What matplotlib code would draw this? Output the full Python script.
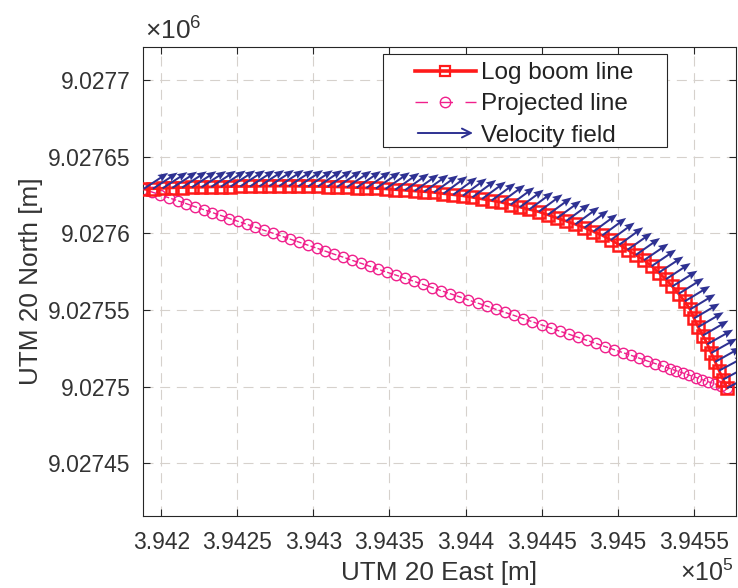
import numpy as np
import matplotlib
matplotlib.use("Agg")
import matplotlib.pyplot as plt
from matplotlib.lines import Line2D
from matplotlib.patches import FancyArrowPatch, Rectangle
from matplotlib.legend_handler import HandlerBase
from matplotlib.ticker import FuncFormatter

plt.rcParams['font.family'] = ['Liberation Sans', 'DejaVu Sans']
plt.rcParams['mathtext.fontset'] = 'custom'
plt.rcParams['mathtext.rm'] = 'Liberation Sans'
plt.rcParams['mathtext.default'] = 'regular'

#---------------- DATA (UTM 20, metres) ------------------------------------
EAST0 = 394000.0
NORTH0 = 9027500.0

# log boom line
boom_e = [188.2, 194.5, 200.9, 207.3, 213.7, 220.0, 226.4, 232.8, 239.2, 245.5,
          251.9, 258.3, 264.6, 271.0, 277.4, 283.8, 290.1, 296.5, 302.9, 309.3,
          315.6, 322.0, 328.4, 334.8, 341.1, 347.4, 353.8, 360.1, 366.5, 372.9,
          379.2, 385.5, 391.9, 398.2, 404.5, 410.8, 417.1, 423.4, 429.6, 435.7,
          441.9, 448.1, 454.1, 460.2, 466.1, 472.2, 478.2, 484.1, 489.9, 495.5,
          501.1, 506.5, 511.9, 517.3, 522.3, 527.0, 531.7, 535.9, 540.1, 544.1,
          547.6, 550.2, 552.9, 556.0, 559.0, 561.5, 564.1, 566.7, 569.3, 571.9]
boom_n = [128.9, 129.1, 129.4, 129.7, 129.9, 130.0, 130.1, 130.3, 130.4, 130.5,
          130.6, 130.6, 130.7, 130.8, 130.8, 130.8, 130.7, 130.6, 130.6, 130.5,
          130.3, 130.1, 129.8, 129.6, 129.3, 129.0, 128.5, 128.1, 127.6, 127.2,
          126.7, 125.9, 125.2, 124.5, 123.5, 122.4, 121.4, 120.3, 118.7, 117.1,
          115.6, 114.1, 112.1, 110.0, 108.0, 105.9, 103.7, 101.2, 98.7, 95.7,
          92.6, 89.3, 85.9, 82.5, 78.6, 74.4, 70.1, 65.4, 60.6, 55.7,
          50.4, 44.6, 38.9, 33.4, 27.8, 22.0, 16.2, 10.5, 4.7, -0.9]

# projected line
proj_e = [188.2, 193.8, 199.4, 205.1, 210.8, 216.4, 222.1, 227.8, 233.5, 239.1,
          244.8, 250.6, 256.2, 261.9, 267.7, 273.4, 279.1, 284.9, 290.6, 296.4,
          302.1, 307.9, 313.7, 319.5, 325.3, 331.0, 336.9, 342.7, 348.6, 354.5,
          360.3, 366.2, 372.1, 378.0, 383.9, 389.9, 395.9, 401.9, 407.9, 413.9,
          419.9, 425.9, 431.9, 438.0, 443.9, 450.0, 456.1, 462.1, 468.1, 474.0,
          480.0, 485.9, 491.7, 497.6, 503.3, 508.8, 514.3, 519.5, 524.7, 529.8,
          534.5, 538.6, 542.8, 547.2, 551.6, 555.6, 559.7, 563.8, 567.9, 571.9]
proj_n = [128.9, 127.0, 125.1, 123.2, 121.3, 119.4, 117.4, 115.5, 113.6, 111.7,
          109.7, 107.8, 105.9, 104.0, 102.0, 100.1, 98.2, 96.2, 94.3, 92.3,
          90.4, 88.4, 86.4, 84.5, 82.5, 80.6, 78.6, 76.6, 74.6, 72.7,
          70.7, 68.7, 66.7, 64.7, 62.7, 60.7, 58.7, 56.6, 54.6, 52.6,
          50.5, 48.5, 46.5, 44.4, 42.4, 40.3, 38.3, 36.2, 34.2, 32.2,
          30.2, 28.2, 26.2, 24.2, 22.3, 20.5, 18.6, 16.8, 15.1, 13.4,
          11.8, 10.4, 9.0, 7.5, 6.0, 4.6, 3.2, 1.9, 0.5, -0.9]

# velocity field at the boom nodes (east / north components, m)
vel_u = [11.7, 11.7, 11.7, 11.7, 11.7, 11.7, 11.7, 11.7, 11.7, 11.7,
         11.7, 11.7, 11.7, 11.7, 11.7, 11.7, 11.7, 11.7, 11.6, 11.6,
         11.6, 11.6, 11.5, 11.5, 11.5, 11.5, 11.4, 11.4, 11.4, 11.4,
         11.4, 11.3, 11.3, 11.3, 11.3, 11.3, 11.3, 11.3, 11.3, 11.3,
         11.3, 11.3, 11.3, 11.3, 11.3, 11.3, 11.3, 11.3, 11.3, 11.3,
         11.3, 11.5, 11.5, 11.6, 11.6, 11.7, 11.7, 11.9, 11.9, 12.0,
         12.0, 12.1, 12.1, 12.1, 12.2, 12.2, 12.2, 12.4, 12.4, 12.4]
vel_v = [7.6, 7.6, 7.6, 7.6, 7.6, 7.6, 7.6, 7.6, 7.6, 7.6,
         7.6, 7.6, 7.6, 7.6, 7.6, 7.6, 7.6, 7.6, 7.7, 7.7,
         7.7, 7.7, 7.8, 7.8, 7.8, 7.8, 7.9, 7.9, 7.9, 8.0,
         8.0, 8.2, 8.2, 8.2, 8.2, 8.2, 8.2, 8.2, 8.2, 8.2,
         8.2, 8.2, 8.2, 8.2, 8.2, 8.2, 8.2, 8.2, 8.2, 8.2,
         8.2, 8.0, 8.0, 7.8, 7.8, 7.6, 7.6, 7.4, 7.4, 7.2,
         7.2, 7.0, 7.0, 7.0, 6.8, 6.8, 6.8, 6.6, 6.6, 6.6]

x_ticks = [394200, 394250, 394300, 394350, 394400, 394450, 394500, 394550]
y_ticks = [9027450, 9027500, 9027550, 9027600, 9027650, 9027700]
labels = ['Log boom line', 'Projected line', 'Velocity field']

RED = '#FF1A1A'
PINK = '#F0208C'
BLUE = '#2E3192'
TXT = '#333333'

#---------------- PLOT -------------------------------------------------------
boom_east = EAST0 + np.array(boom_e)
boom_north = NORTH0 + np.array(boom_n)
proj_east = EAST0 + np.array(proj_e)
proj_north = NORTH0 + np.array(proj_n)

fig = plt.figure(figsize=(7.38, 5.88), dpi=100)
ax = fig.add_axes([0.1938, 0.1224, 0.8035, 0.7981])

ax.plot(proj_east, proj_north, '--o', color=PINK, lw=1, ms=7.5, mfc='none',
        mew=1, zorder=2)
ax.plot(boom_east, boom_north, '-s', color=RED, lw=2, ms=8, mfc='none',
        mew=1.8, zorder=3)
ax.quiver(boom_east, boom_north, vel_u, vel_v, angles='xy', scale_units='xy',
          scale=0.72, color=BLUE, width=0.0034, headwidth=4.0, headlength=5.0,
          headaxislength=4.5, zorder=4)

ax.set_xlim(394188.0, 394577.8)
ax.set_ylim(9027415.7, 9027721.7)
ax.set_xticks(x_ticks)
ax.set_yticks(y_ticks)
ax.xaxis.set_major_formatter(FuncFormatter(lambda v, p: f'{v / 1e5:.6g}'))
ax.yaxis.set_major_formatter(FuncFormatter(lambda v, p: f'{v / 1e6:.6g}'))
ax.tick_params(direction='in', top=True, right=True, length=5, width=0.8,
               color='#262626', labelcolor=TXT, labelsize=16.5, pad=9)
ax.tick_params(axis='x', pad=11)
for s in ax.spines.values():
    s.set_color('#262626')
    s.set_linewidth(0.8)
ax.grid(True, color='#D6D1CC', lw=0.8, linestyle=(0, (9, 6)))
ax.set_axisbelow(True)

ax.set_xlabel('UTM 20 East [m]', fontsize=18.8, color=TXT)
ax.set_ylabel('UTM 20 North [m]', fontsize=18.8, color=TXT)
ax.xaxis.set_label_coords(0.5, -0.095)
ax.yaxis.set_label_coords(-0.168, 0.5)

fig.text(0.197, 0.933, r'$\times10^{6}$', fontsize=19, color=TXT)
fig.text(0.994, 0.012, r'$\times10^{5}$', fontsize=18, color=TXT, ha='right')


class Handle(HandlerBase):
    def __init__(self, kind):
        super().__init__()
        self.kind = kind

    def create_artists(self, legend, orig, xd, yd, w, h, fs, trans):
        x0 = -xd
        x1 = -xd + w
        y = -yd + h / 2
        if self.kind == 'arrow':
            a = FancyArrowPatch((x0, y), (x1, y), arrowstyle='->',
                                mutation_scale=16, color=BLUE, lw=1.4,
                                transform=trans)
            return [a]
        if self.kind == 'boom':
            ln = Line2D([x0, x1], [y, y], color=RED, lw=2.6, transform=trans)
            mk = Line2D([(x0 + x1) / 2], [y], marker='s', ms=7, mfc='none',
                        mec=RED, mew=1.6, transform=trans)
        else:
            ln = Line2D([x0, x1], [y, y], color=PINK, lw=1,
                        linestyle=(0, (9, 9)), transform=trans)
            mk = Line2D([(x0 + x1) / 2], [y], marker='o', ms=7.5, mfc='none',
                        mec=PINK, mew=1, transform=trans)
        return [ln, mk]


# legend frame drawn as a plain box, legend content placed inside it
box = Rectangle((383 / 738, 1 - 147 / 588), 284 / 738, 93 / 588,
                transform=fig.transFigure, facecolor='white',
                edgecolor='#262626', lw=0.8, zorder=6, clip_on=False)
ax.add_patch(box)

h_boom, h_proj, h_vel = object(), object(), object()
leg = ax.legend([h_boom, h_proj, h_vel], labels,
                handler_map={h_boom: Handle('boom'), h_proj: Handle('proj'),
                             h_vel: Handle('arrow')},
                loc='upper left', bbox_to_anchor=(415 / 738, 1 - 62 / 588),
                bbox_transform=fig.transFigure, borderaxespad=0,
                fontsize=17.5, handlelength=2.5, handletextpad=0.22,
                labelspacing=0.38, borderpad=0, frameon=False)
leg.set_zorder(7)
for t in leg.get_texts():
    t.set_color('#222222')

fig.savefig('out.png', dpi=100)
